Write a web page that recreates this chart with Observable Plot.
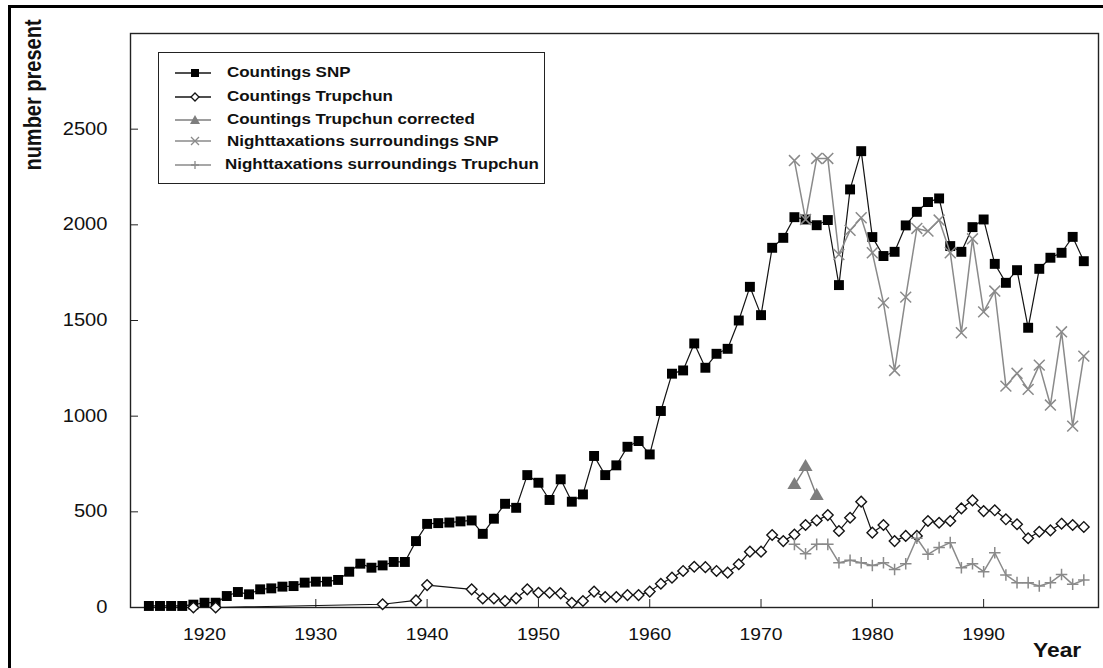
<!DOCTYPE html>
<html>
<head>
<meta charset="utf-8">
<script src="https://cdn.jsdelivr.net/npm/d3@7"></script>
<script src="https://cdn.jsdelivr.net/npm/@observablehq/plot@0.6"></script>
<style>
  body { margin: 0; background: #fff; }
  #wrap { position: relative; width: 1103px; height: 668px; overflow: hidden; background: #fff;
          font-family: "Liberation Sans", Arial, Helvetica, sans-serif; color: #111; }
  #chart { position: absolute; left: 0; top: 0; }
  #border { position: absolute; left: 8px; top: 5px; width: 1200px; height: 800px;
            border-left: 3px solid #000; border-top: 3px solid #000; pointer-events: none; }
  #ylabel { position: absolute; left: 32.5px; top: 95px; font-weight: bold; font-size: 20px; line-height: 1;
            white-space: nowrap; transform: translate(-50%, -50%) rotate(-90deg) scaleY(1.17); }
  #xlabel { position: absolute; left: 1033px; top: 641px; font-weight: bold; font-size: 19.5px; line-height: 1;
            white-space: nowrap; transform: scaleX(1.17); transform-origin: left center; }
  #legend { position: absolute; left: 158px; top: 52px; width: 387px; height: 132px; box-sizing: border-box;
            border: 1.5px solid #222; background: #fff; }
  .lg-sym { position: absolute; }
  .lg-txt { position: absolute; font-weight: bold; font-size: 14.5px; line-height: 1; white-space: nowrap;
            transform: scaleX(1.17); transform-origin: left center; }
</style>
</head>
<body>
<div id="wrap">
  <div id="chart"></div>
  <div id="border"></div>
  <div id="ylabel">number present</div>
  <div id="xlabel">Year</div>
  <div id="legend"></div>
</div>
<script>
// ---------- data ----------
const seriesNames = [
  "Countings SNP",
  "Countings Trupchun",
  "Countings Trupchun corrected",
  "Nighttaxations surroundings SNP",
  "Nighttaxations surroundings Trupchun"
];

const snpYears = [1915,1916,1917,1918,1919,1920,1921,1922,1923,1924,1925,1926,1927,1928,1929,
  1930,1931,1932,1933,1934,1935,1936,1937,1938,1939,1940,1941,1942,1943,1944,1945,1946,1947,1948,1949,
  1950,1951,1952,1953,1954,1955,1956,1957,1958,1959,1960,1961,1962,1963,1964,1965,1966,1967,1968,1969,
  1970,1971,1972,1973,1974,1975,1976,1977,1978,1979,1980,1981,1982,1983,1984,1985,1986,1987,1988,1989,
  1990,1991,1992,1993,1994,1995,1996,1997,1998,1999];
const snpCounts = [8,8,8,8,15,25,25,60,81,69,95,100,109,112,130,
  135,135,144,187,229,208,220,238,238,347,437,441,444,450,455,385,464,542,521,692,
  652,562,670,553,591,792,692,743,840,870,800,1027,1222,1239,1380,1253,1326,1352,1500,1676,
  1528,1880,1932,2040,2028,1998,2025,1685,2185,2385,1936,1837,1859,1997,2068,2119,2138,1889,1859,1988,
  2028,1796,1697,1763,1462,1770,1828,1854,1937,1810];

const trupYears = [1919,1921,1936,1939,1940,1944,1945,1946,1947,1948,1949,
  1950,1951,1952,1953,1954,1955,1956,1957,1958,1959,1960,1961,1962,1963,1964,1965,1966,1967,1968,1969,
  1970,1971,1972,1973,1974,1975,1976,1977,1978,1979,1980,1981,1982,1983,1984,1985,1986,1987,1988,1989,
  1990,1991,1992,1993,1994,1995,1996,1997,1998,1999];
const trupCounts = [0,0,17,37,117,95,47,47,34,48,95,
  77,77,74,25,34,83,55,55,65,65,83,124,156,191,213,211,191,182,226,292,
  292,379,347,381,431,455,483,400,469,553,391,431,347,374,374,452,443,452,518,560,
  504,508,461,435,362,396,403,438,431,421];

const trupCorrYears = [1973,1974,1975];
const trupCorrCounts = [640,734,583];

const nightYears = [1973,1974,1975,1976,1977,1978,1979,1980,1981,1982,1983,1984,1985,1986,1987,1988,1989,
  1990,1991,1992,1993,1994,1995,1996,1997,1998,1999];
const nightSnpCounts = [2336,2028,2347,2347,1845,1971,2037,1854,1592,1239,1622,1981,1967,2025,1854,1436,1927,
  1545,1654,1157,1224,1140,1267,1058,1441,948,1314];
const nightTrupCounts = [330,281,330,330,234,247,234,220,234,199,229,362,278,313,339,208,229,
  187,286,170,130,130,112,130,173,121,144];

const xTicks = [1920,1930,1940,1950,1960,1970,1980,1990];
const yTicks = [0,500,1000,1500,2000,2500];

// ---------- build tables ----------
const rows = (years, vals) => years.map((year, i) => ({year, value: vals[i]}));
const snp = rows(snpYears, snpCounts);
const trup = rows(trupYears, trupCounts);
const trupCorr = rows(trupCorrYears, trupCorrCounts);
const nightSnp = rows(nightYears, nightSnpCounts);
const nightTrup = rows(nightYears, nightTrupCounts);

const BLACK = "#141414", GREY = "#8a8a8a", GREY_T = "#7e7e7e";

const chart = Plot.plot({
  width: 1103,
  height: 668,
  marginLeft: 130,
  marginRight: 5,
  marginTop: 33,
  marginBottom: 61,
  style: {background: "transparent", fontFamily: "'Liberation Sans', Arial, sans-serif", color: "#111", overflow: "visible"},
  x: {domain: [1913.35, 2000.32], label: null},
  y: {domain: [0, 3000], label: null},
  marks: [
    Plot.axisX(xTicks, {tickSize: -8, tickPadding: 29, tickFormat: d => String(d), label: null, fontSize: 16.5, stroke: "#222"}),
    Plot.axisY(yTicks, {tickSize: -8, tickPadding: 31, tickFormat: d => String(d), label: null, fontSize: 17.5, stroke: "#222"}),
    Plot.frame({stroke: "#222", strokeWidth: 1.4}),
    Plot.line(snp, {x: "year", y: "value", stroke: BLACK, strokeWidth: 1.2}),
    Plot.dot(snp, {x: "year", y: "value", symbol: "square", r: 5.6, fill: "#000", stroke: "none"}),
    Plot.line(trup, {x: "year", y: "value", stroke: BLACK, strokeWidth: 1.2}),
    Plot.dot(trup, {x: "year", y: "value", symbol: "diamond2", r: 4.8, fill: "#fff", stroke: BLACK, strokeWidth: 1.4}),
    Plot.line(trupCorr, {x: "year", y: "value", stroke: GREY_T, strokeWidth: 1.4}),
    Plot.dot(trupCorr, {x: "year", y: "value", symbol: "triangle", r: 5.2, fill: GREY_T, stroke: "none"}),
    Plot.line(nightSnp, {x: "year", y: "value", stroke: GREY, strokeWidth: 1.5}),
    Plot.dot(nightSnp, {x: "year", y: "value", symbol: "times", r: 5, stroke: GREY, strokeWidth: 1.5}),
    Plot.line(nightTrup, {x: "year", y: "value", stroke: GREY, strokeWidth: 1.5}),
    Plot.dot(nightTrup, {x: "year", y: "value", symbol: "plus", r: 3.8, stroke: GREY, strokeWidth: 1.5})
  ]
});
document.getElementById("chart").appendChild(chart);

// stretch tick labels horizontally like the reference (scale about the text anchor)
function stretch(selector, k, anchor) {
  chart.querySelectorAll(selector).forEach(t => {
    const bb = t.getBBox();
    const ax = anchor === "end" ? bb.x + bb.width : bb.x + bb.width / 2;
    const tr = t.getAttribute("transform") || "";
    t.setAttribute("transform", `${tr} translate(${ax},0) scale(${k},1) translate(${-ax},0)`);
  });
}
stretch('g[aria-label="x-axis tick label"] text', 1.17, "middle");
stretch('g[aria-label="y-axis tick label"] text', 1.15, "end");

// ---------- legend ----------
const legendRows = [
  {y: 73.3, line: BLACK, sym: "square"},
  {y: 97.3, line: BLACK, sym: "diamond"},
  {y: 120, line: GREY_T, sym: "triangle"},
  {y: 141.7, line: GREY, sym: "times"},
  {y: 165, line: GREY, sym: "plus"}
];
const legend = document.getElementById("legend");
const L0 = 158 + 1.5, T0 = 52 + 1.5;
legendRows.forEach((r, i) => {
  const svg = d3.create("svg").attr("class", "lg-sym").attr("width", 44).attr("height", 16)
    .style("left", (172 - L0) + "px").style("top", (r.y - 8 - T0) + "px");
  svg.append("line").attr("x1", 3).attr("x2", 39).attr("y1", 8).attr("y2", 8)
    .attr("stroke", r.line).attr("stroke-width", 1.5);
  const cx = 23, cy = 8;
  if (r.sym === "square") svg.append("rect").attr("x", cx - 4).attr("y", cy - 4).attr("width", 8).attr("height", 8).attr("fill", "#000");
  if (r.sym === "diamond") svg.append("path").attr("d", `M${cx},${cy-4}L${cx+4},${cy}L${cx},${cy+4}L${cx-4},${cy}Z`).attr("fill", "#fff").attr("stroke", BLACK).attr("stroke-width", 1.3);
  if (r.sym === "triangle") svg.append("path").attr("d", `M${cx},${cy-5}L${cx+5},${cy+4}L${cx-5},${cy+4}Z`).attr("fill", GREY_T);
  if (r.sym === "times") svg.append("path").attr("d", `M${cx-4},${cy-4}L${cx+4},${cy+4}M${cx-4},${cy+4}L${cx+4},${cy-4}`).attr("stroke", GREY).attr("stroke-width", 1.3);
  if (r.sym === "plus") svg.append("path").attr("d", `M${cx-4},${cy}L${cx+4},${cy}M${cx},${cy-4}L${cx},${cy+4}`).attr("stroke", GREY).attr("stroke-width", 1.3);
  legend.appendChild(svg.node());
  const txt = document.createElement("div");
  txt.className = "lg-txt";
  txt.textContent = seriesNames[i];
  txt.style.left = ((i === 4 ? 225 : 227) - L0) + "px";
  txt.style.top = (r.y - 7.5 - T0) + "px";
  legend.appendChild(txt);
});
</script>
</body>
</html>
